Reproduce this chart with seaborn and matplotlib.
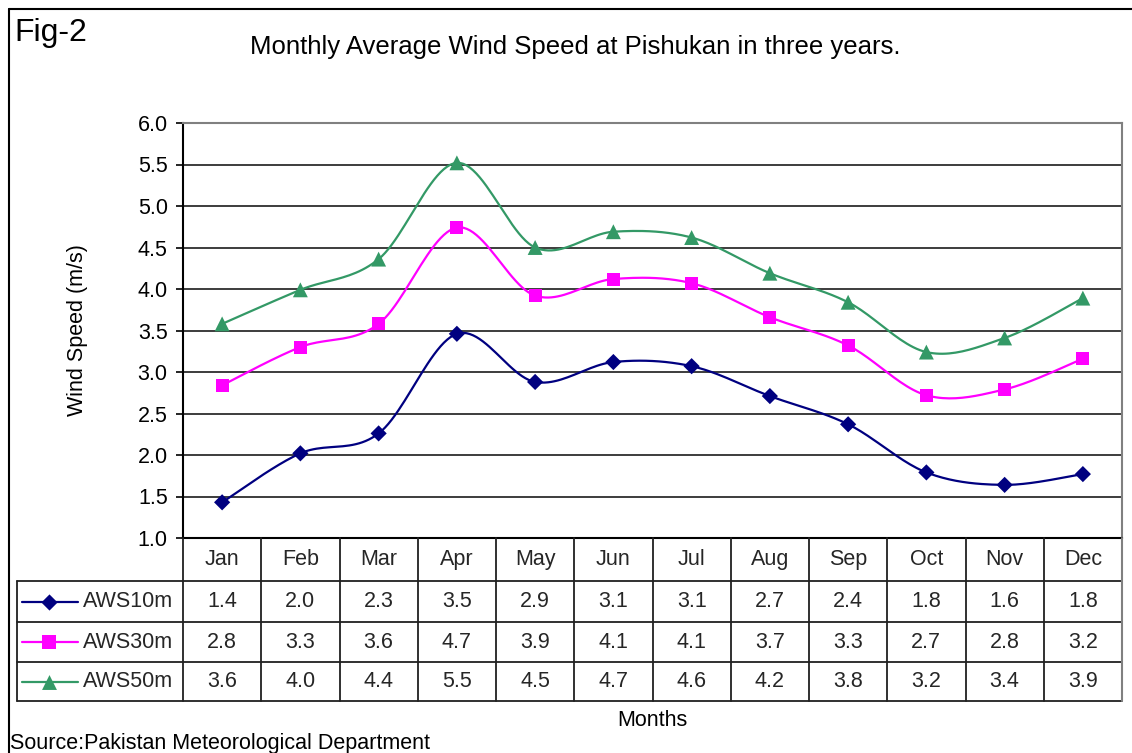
import numpy as np
import pandas as pd
import matplotlib
matplotlib.use("Agg")
import matplotlib.pyplot as plt
import seaborn as sns

# ---------------- data ----------------
months = ["Jan", "Feb", "Mar", "Apr", "May", "Jun", "Jul", "Aug", "Sep", "Oct", "Nov", "Dec"]
series_names = ["AWS10m", "AWS30m", "AWS50m"]
aws10 = [1.43, 2.02, 2.26, 3.46, 2.88, 3.12, 3.07, 2.71, 2.37, 1.79, 1.64, 1.77]
aws30 = [2.84, 3.30, 3.58, 4.74, 3.92, 4.12, 4.07, 3.66, 3.32, 2.72, 2.79, 3.16]
aws50 = [3.58, 3.99, 4.36, 5.52, 4.50, 4.69, 4.62, 4.19, 3.84, 3.24, 3.41, 3.89]
yticks = [1.0, 1.5, 2.0, 2.5, 3.0, 3.5, 4.0, 4.5, 5.0, 5.5, 6.0]

title = "Monthly Average Wind Speed at Pishukan in three years."
fig_label = "Fig-2"
ylabel = "Wind Speed (m/s)"
xlabel = "Months"
source = "Source:Pakistan Meteorological Department"

colors = {"AWS10m": "#000080", "AWS30m": "#FF00FF", "AWS50m": "#339966"}
markers = {"AWS10m": "D", "AWS30m": "s", "AWS50m": "^"}
msizes = {"AWS10m": 68, "AWS30m": 88, "AWS50m": 115}

values = dict(zip(series_names, [aws10, aws30, aws50]))

sns.set_theme(style="white")
plt.rcParams["font.family"] = ["Liberation Sans", "DejaVu Sans"]

FS = 15.5


def smooth(y, n=24):
    """Excel-style smoothed line (Catmull-Rom Bezier through the points)."""
    y = np.asarray(y, float)
    x = np.arange(len(y), dtype=float)
    P = np.column_stack([x, y])
    P = np.vstack([P[0], P, P[-1]])
    out = []
    for i in range(1, len(P) - 2):
        p0, p1, p2, p3 = P[i - 1], P[i], P[i + 1], P[i + 2]
        c1 = p1 + (p2 - p0) / 6.0
        c2 = p2 - (p3 - p1) / 6.0
        t = np.linspace(0, 1, n, endpoint=(i == len(P) - 3))[:, None]
        b = (1 - t) ** 3 * p1 + 3 * (1 - t) ** 2 * t * c1 + 3 * (1 - t) * t ** 2 * c2 + t ** 3 * p2
        out.append(b)
    return np.vstack(out)


curve_rows = []
point_rows = []
for name in series_names:
    c = smooth(values[name])
    for k, (xx, yy) in enumerate(c):
        curve_rows.append({"series": name, "x": xx, "y": yy, "order": k})
    for i, v in enumerate(values[name]):
        point_rows.append({"series": name, "x": i, "y": v})
curves = pd.DataFrame(curve_rows)
points = pd.DataFrame(point_rows)

W, H = 1132, 753
fig = plt.figure(figsize=(W / 100, H / 100), dpi=100)
fig.patch.set_facecolor("white")

# plot area in pixels
L, R, T, B = 183, 1122, 123, 538
ax = fig.add_axes([L / W, 1 - B / H, (R - L) / W, (B - T) / H])
ax.set_facecolor("white")

sns.lineplot(data=curves, x="x", y="y", hue="series", palette=colors, sort=False,
             estimator=None, units="series", linewidth=1.6, legend=False, ax=ax, zorder=3)
sns.scatterplot(data=points, x="x", y="y", hue="series", style="series", size="series",
                palette=colors, markers=markers, sizes=msizes, linewidth=0,
                legend=False, ax=ax, zorder=4)

ax.set_xlim(-0.5, len(months) - 0.5)
ax.set_ylim(1.0, 6.0)
ax.set_yticks(yticks)
ax.set_yticklabels([f"{v:.1f}" for v in yticks], fontsize=FS, color="black")
ax.set_xticks([])
ax.set_xlabel("")
ax.set_ylabel("")
for v in yticks[1:-1]:
    ax.axhline(v, color="#3c3c3c", linewidth=1.4, zorder=1)
ax.tick_params(axis="y", direction="out", length=5, width=1.2, color="black", pad=6, left=True)
ax.spines["left"].set_color("black")
ax.spines["left"].set_linewidth(1.5)
ax.spines["bottom"].set_color("black")
ax.spines["bottom"].set_linewidth(1.5)
ax.spines["top"].set_color("#808080")
ax.spines["top"].set_linewidth(1.5)
ax.spines["right"].set_color("#808080")
ax.spines["right"].set_linewidth(1.5)

# overlay axes in pixel coordinates for table and decorations
ov = fig.add_axes([0, 0, 1, 1], zorder=5)
ov.set_xlim(0, W)
ov.set_ylim(H, 0)
ov.axis("off")
ov.patch.set_alpha(0)

# figure border
ov.plot([9, 9], [9, H], color="black", linewidth=1.5)
ov.plot([9, W], [9, 9], color="black", linewidth=1.5)

# texts
ov.text(14, 33, fig_label, fontsize=23, ha="left", va="center", color="black")
ov.text(575, 47, title, fontsize=18.5, ha="center", va="center", color="black")
ov.text(78, 330, ylabel, fontsize=FS, rotation=90, ha="center", va="center", color="black")
ov.text((L + R) / 2, 720, xlabel, fontsize=FS, ha="center", va="center", color="black")
ov.text(10, 743, source, fontsize=FS, ha="left", va="center", color="black")

# data table
col_w = (R - L) / len(months)
rows_y = [538, 581, 622, 662, 701]
TL = 17
lc = "#202020"
for yy in rows_y[1:]:
    ov.plot([TL, R], [yy, yy], color=lc, linewidth=1.3)
ov.plot([TL, TL], [rows_y[1], rows_y[-1]], color=lc, linewidth=1.3)
ov.plot([L, L], [rows_y[0], rows_y[-1]], color=lc, linewidth=1.3)
for k in range(1, len(months)):
    xx = L + k * col_w
    ov.plot([xx, xx], [rows_y[0], rows_y[-1]], color=lc, linewidth=1.3)
ov.plot([R, R], [rows_y[0], rows_y[-1]], color="#808080", linewidth=1.5)

for i, m in enumerate(months):
    cx = L + (i + 0.5) * col_w
    ov.text(cx, (rows_y[0] + rows_y[1]) / 2, m, fontsize=FS, ha="center", va="center")
for r, name in enumerate(series_names):
    cy = (rows_y[r + 1] + rows_y[r + 2]) / 2
    for i, v in enumerate(values[name]):
        cx = L + (i + 0.5) * col_w
        ov.text(cx, cy, f"{v:.1f}", fontsize=FS, ha="center", va="center")
    ov.plot([22, 78], [cy, cy], color=colors[name], linewidth=1.6)
    ov.scatter([49], [cy], marker=markers[name], s=msizes[name], color=colors[name], linewidth=0, zorder=6)
    ov.text(83, cy, name, fontsize=FS, ha="left", va="center")

fig.savefig("out.png", dpi=100, facecolor="white")
